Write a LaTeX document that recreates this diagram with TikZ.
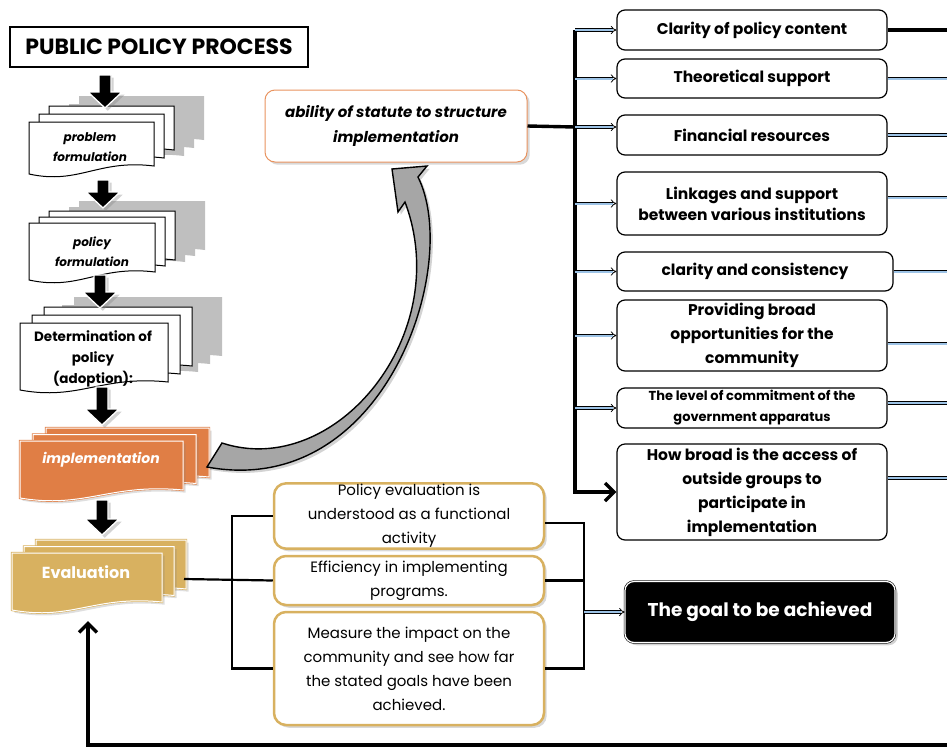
\documentclass[tikz,border=0pt]{standalone}
\usepackage{fontspec}
\setmainfont{Poppins}
\usetikzlibrary{arrows.meta,shadows,positioning}
\definecolor{docorange}{HTML}{E07E45}
\definecolor{docgold}{HTML}{D8B160}
\definecolor{linkblue}{HTML}{9DC3E6}
\definecolor{boxorange}{HTML}{E9935F}
% one page with a wavy bottom edge: style, x, y, width, height
\newcommand{\docpage}[5]{%
  \path[#1] (#2,#3) -- (#2+#4,#3) -- (#2+#4,#3+#5-11)
    .. controls (#2+0.55*#4,#3+#5-18) and (#2+0.4*#4,#3+#5+8) .. (#2,#3+#5-3) -- cycle;}
% three pages stacked: style, x, y, width, height, dx, dy
\newcommand{\docstack}[7]{%
  \docpage{#1}{#2+2*#6}{#3-2*#7}{#4}{#5}
  \docpage{#1}{#2+#6}{#3-#7}{#4}{#5}
  \docpage{#1}{#2}{#3}{#4}{#5}}
% thick block arrow pointing down: x, top, tip
\newcommand{\blockdown}[3]{%
  \draw[white,fill=black,line width=1.3pt,drop shadow={opacity=0.35}]
    (#1-6,#2) -- (#1+6,#2) -- (#1+6,#3-16) -- (#1+17,#3-16) -- (#1,#3)
    -- (#1-17,#3-16) -- (#1-6,#3-16) -- cycle;}

\begin{document}
\begin{tikzpicture}[x=1pt,y=-1pt,
  doctext/.style={align=center,font=\fontsize{12}{20}\selectfont\bfseries\itshape},
  rightbox/.style={draw,rounded corners=8pt,line width=1.2pt,fill=white,
    minimum width=270,align=center,font=\fontsize{15.5}{22}\selectfont\bfseries},
  evalbox/.style={draw=docgold,rounded corners=12pt,line width=2.5pt,fill=white,
    minimum width=270,align=center,drop shadow={opacity=0.3},
    font=\fontsize{15}{24}\selectfont},
  link/.style={draw=black,double=linkblue,double distance=2pt,line width=0.8pt,
    -{Implies}},
  outlink/.style={draw=black,double=linkblue,double distance=2pt,line width=0.8pt},
  bus/.style={line width=3.4pt},
  bracket/.style={line width=2.2pt}]
\useasboundingbox (0,0) rectangle (947,747);

% title
\node[draw,line width=1.5pt,minimum width=298,minimum height=40,
  font=\fontsize{22}{24}\selectfont\bfseries] (title) at (159,47) {PUBLIC POLICY PROCESS};

% process stack on the left
\docstack{fill=gray!50}{59}{112}{125}{55}{10}{8}
\docstack{draw,fill=white,line width=1pt}{29}{122}{125}{55}{10}{8}
\docstack{fill=gray!50}{59}{213}{126}{60}{10}{6}
\docstack{draw,fill=white,line width=1pt}{29}{223}{126}{60}{10}{6}
\docstack{fill=gray!50}{50}{313}{148}{70}{12}{8}
\docstack{draw,fill=white,line width=1pt}{20}{323}{148}{70}{12}{8}
\docstack{draw=docorange,double=white,double distance=1pt,line width=0.6pt,
  fill=docorange,drop shadow={opacity=0.25}}{20}{441}{163}{60}{13}{6.5}
\docstack{draw=docgold,double=white,double distance=1pt,line width=0.6pt,
  fill=docgold,drop shadow={opacity=0.25}}{12}{553}{150}{60}{12}{6.5}

\node[doctext] (prob) at (90,147) {problem\\formulation};
\node[doctext] (polf) at (92,252) {policy\\formulation};
\node[doctext,font=\fontsize{13.5}{21}\selectfont\bfseries] (adopt) at (93,359)
  {Determination of\\policy\\(adoption):};
\node[doctext,text=white,font=\fontsize{14}{20}\selectfont\bfseries\itshape] (impl) at (101,460)
  {implementation};
\node[doctext,text=white,font=\fontsize{16}{20}\selectfont\bfseries] (eval) at (86,572)
  {Evaluation};

\blockdown{105}{75}{108}
\blockdown{103}{180}{208}
\blockdown{100}{275}{308}
\blockdown{102}{387}{425}
\blockdown{102}{500}{535}

% statute box and curved arrow
\node[draw=boxorange,rounded corners=10pt,line width=1pt,fill=white,minimum width=262,
  minimum height=72,align=center,drop shadow={opacity=0.3},
  font=\fontsize{15}{25}\selectfont\bfseries\itshape] (statute) at (396,126)
  {ability of statute to structure\\implementation};
\draw[fill=gray!70,line width=1.4pt,drop shadow={opacity=0.35}]
  (207,467) -- (222,443) .. controls (335,480) and (455,335) .. (405,202)
  -- (398,212) -- (392,169) -- (427,166) -- (418,177)
  .. controls (462,265) and (385,500) .. (207,467) -- cycle;

% variables on the right
\node[rightbox,minimum height=40] (c1) at (752,30) {Clarity of policy content};
\node[rightbox,minimum height=39] (c2) at (752,78.5) {Theoretical support};
\node[rightbox,minimum height=40] (c3) at (752,135) {Financial resources};
\node[rightbox,minimum height=63,inner sep=1pt,font=\fontsize{15.5}{21}\selectfont\bfseries] (c4) at (752,203.5)
  {Linkages and support\\between various institutions};
\node[rightbox,minimum height=39,minimum width=276] (c5) at (755,271.5) {clarity and consistency};
\node[rightbox,minimum height=71,inner sep=1pt,font=\fontsize{15.5}{24}\selectfont\bfseries] (c6) at (752,335.5)
  {Providing broad\\opportunities for the\\community};
\node[rightbox,minimum height=40,inner sep=1pt,font=\fontsize{13}{21}\selectfont\bfseries] (c7) at (752,408)
  {The level of commitment of the\\government apparatus};
\node[rightbox,minimum height=96,inner sep=1pt,font=\fontsize{15.5}{24}\selectfont\bfseries] (c8) at (752,492)
  {How broad is the access of\\outside groups to\\participate in\\implementation};

\coordinate (bus) at (575,30);
\coordinate (jn) at (575,127);
\coordinate (edge) at (947,0);
\draw[bus] (statute.east) -- (jn);
\draw[bus,-{Straight Barb[length=9pt,width=18pt]}] (bus) -- (bus |- c8.west) -- (c8.west);
\foreach \b in {1,2,4,5,6,7} {
  \draw[link] (bus |- c\b.west) -- (c\b.west);
}
\draw[link] (jn) -- (jn -| c3.west);
\draw[line width=4.5pt] (c1.east) -- (c1.east -| edge);
\draw[outlink] (c2.east) -- (c2.east -| edge);
\draw[outlink] (c3.east) -- (c3.east -| edge);
\draw[outlink] ([yshift=6pt]c4.east) -- ([yshift=6pt]c4.east -| edge);
\draw[outlink] (c5.east) -- (c5.east -| edge);
\draw[outlink] ([yshift=-8pt]c6.east) -- ([yshift=-8pt]c6.east -| edge);
\draw[outlink] ([yshift=5pt]c7.east) -- ([yshift=5pt]c7.east -| edge);
\draw[outlink] ([yshift=14pt]c8.east) -- ([yshift=14pt]c8.east -| edge);

% evaluation criteria
\node[evalbox,minimum height=65,inner sep=1pt] (e1) at (409,516)
  {Policy evaluation is\\understood as a functional\\activity};
\node[evalbox,minimum height=49,inner sep=1pt] (e2) at (409,580.5)
  {Efficiency in implementing\\programs.};
\node[evalbox,minimum height=113] (e3) at (409,668.5)
  {Measure the impact on the\\community and see how far\\the stated goals have been\\achieved.};

\coordinate (lb) at (232,579);
\coordinate (rb) at (584,610);
\coordinate (evr) at (184,579);
\draw[bracket] (evr) -- (e2.west);
\draw[bracket] (e1.west) -- (e1.west -| lb) -- (e3.west -| lb) -- (e3.west);
\draw[bracket] ([yshift=-7pt]e1.east) -- ([yshift=-7pt]e1.east -| rb) -- (e3.east -| rb) -- (e3.east);
\draw[bracket] (e2.east) -- (e2.east -| rb);

% goal
\node[fill=black,draw=black,double=white,double distance=1.2pt,line width=0.6pt,
  rounded corners=9pt,minimum width=270,minimum height=61,text=white,
  drop shadow={opacity=0.35},font=\fontsize{18.5}{20}\selectfont\bfseries] (goal) at (760,612)
  {The goal to be achieved};
\draw[link] (rb |- goal.west) -- (goal.west);

% feedback to evaluation
\coordinate (fb) at (947,745);
\coordinate (fbc) at (88,745);
\coordinate (evb) at (88,621);
\draw[line width=3.5pt,-{Straight Barb[length=9pt,width=18pt]}] (fb) -- (fbc) -- (evb);
\end{tikzpicture}
\end{document}
